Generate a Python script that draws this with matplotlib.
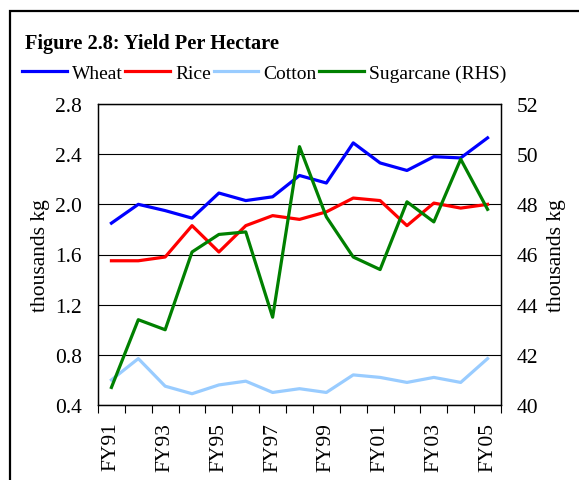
import numpy as np
import matplotlib.pyplot as plt
from matplotlib.patches import Rectangle

# Datos
years = ["FY91", "FY92", "FY93", "FY94", "FY95", "FY96", "FY97", "FY98",
         "FY99", "FY00", "FY01", "FY02", "FY03", "FY04", "FY05"]
wheat = [1.85, 2.00, 1.95, 1.89, 2.09, 2.03, 2.06, 2.23, 2.17, 2.49, 2.33, 2.27, 2.38, 2.37, 2.53]
rice = [1.55, 1.55, 1.58, 1.83, 1.62, 1.83, 1.91, 1.88, 1.94, 2.05, 2.03, 1.83, 2.01, 1.97, 2.00]
cotton = [0.60, 0.77, 0.55, 0.49, 0.56, 0.59, 0.50, 0.53, 0.50, 0.64, 0.62, 0.58, 0.62, 0.58, 0.77]
sugarcane = [40.7, 43.4, 43.0, 46.1, 46.8, 46.9, 43.5, 50.3, 47.5, 45.9, 45.4, 48.1, 47.3, 49.8, 47.8]

left_ticks = [0.4, 0.8, 1.2, 1.6, 2.0, 2.4, 2.8]
right_ticks = [40, 42, 44, 46, 48, 50, 52]

plt.rcParams["font.family"] = ["Liberation Serif", "DejaVu Serif"]
plt.rcParams["font.size"] = 15.5

fig = plt.figure(figsize=(5.79, 4.81), dpi=100)
ax = fig.add_axes([98 / 579, 1 - 406 / 481, 403 / 579, 301 / 481])
ax2 = ax.twinx()

x = np.arange(len(years))
lw = 2.3
l1, = ax.plot(x, wheat, color="#0000FF", lw=lw, label="Wheat", zorder=3)
l2, = ax.plot(x, rice, color="#FF0000", lw=lw, label="Rice", zorder=3)
l3, = ax.plot(x, cotton, color="#99CCFF", lw=lw, label="Cotton", zorder=3)
l4, = ax2.plot(x, sugarcane, color="#008000", lw=lw, label="Sugarcane (RHS)", zorder=3)

ax.set_ylim(0.4, 2.8)
ax.set_yticks(left_ticks)
ax.set_yticklabels([f"{v:.1f}" for v in left_ticks])
ax2.set_ylim(40, 52)
ax2.set_yticks(right_ticks)
ax.tick_params(axis="y", length=0, pad=11.5)
ax2.tick_params(axis="y", length=0, pad=11.5)
ax.yaxis.grid(True, color="black", lw=0.8)
ax.set_axisbelow(True)

ax.set_xlim(-0.5, len(years) - 0.5)
ax.set_xticks(np.arange(-0.5, len(years), 1))
ax.set_xticklabels([])
ax.tick_params(axis="x", which="major", direction="out", length=6, width=0.8)
ax.set_xticks(x[::2], minor=True)
ax.set_xticklabels(years[::2], minor=True, rotation=90)
ax.tick_params(axis="x", which="minor", length=0, pad=12)

for a in (ax, ax2):
    for s in a.spines.values():
        s.set_linewidth(0.9)

ax.set_ylabel("thousands kg", va="center")
ax.yaxis.set_label_coords((40 - 98) / 403, 0.5)
ax2.set_ylabel("thousands kg", va="center")
ax2.yaxis.set_label_coords((556 - 98) / 403, 0.5)

fig.text(25 / 579, 1 - 49 / 481, "Figure 2.8: Yield Per Hectare",
         fontsize=14.7, fontweight="bold", va="baseline")

fig.legend(handles=[l1, l2, l3, l4], loc="center left",
           bbox_to_anchor=(22 / 579, 1 - 74 / 481), ncol=4, frameon=False,
           handlelength=2.3, handletextpad=0.25, columnspacing=0.15,
           borderpad=0, borderaxespad=0, fontsize=14)

# Marco exterior
fig.patches.append(Rectangle((10 / 579, -0.1), 1.0, 1 - 12 / 481 + 0.1,
                             transform=fig.transFigure, fill=False,
                             edgecolor="black", lw=1.6))

fig.savefig("out.png", dpi=100)
